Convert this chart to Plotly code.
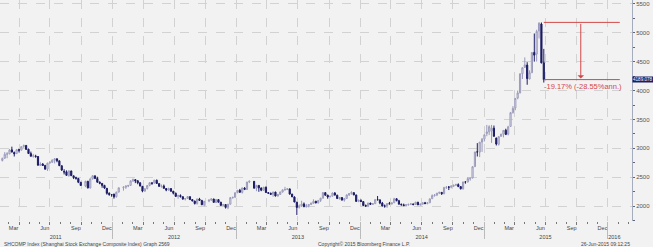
import pandas as pd
import plotly.graph_objects as go

# ---------------- data (weekly SHCOMP) ----------------
holiday_weeks = ["2011-10-07", "2012-01-27", "2012-10-05", "2013-02-15"]
weeks = [d for d in pd.date_range("2011-02-11", "2015-06-26", freq="W-FRI")
         if d.strftime("%Y-%m-%d") not in holiday_weeks]

opens = [
    # 2011
    2790, 2830, 2900, 2905, 2975, 2930, 2910, 2980, 2970, 3030,
    3050, 2985, 2910, 2865, 2870, 2860, 2705, 2730, 2705, 2640,
    2750, 2760, 2795, 2820, 2785, 2700, 2600, 2595, 2530, 2610,
    2525, 2495, 2480, 2415, 2350, 2430, 2315, 2475, 2525, 2480,
    2415, 2395, 2360, 2310, 2225, 2200,
    # 2012
    2210, 2165, 2245, 2320, 2330, 2350, 2360, 2440, 2460, 2440,
    2405, 2345, 2260, 2305, 2360, 2405, 2400, 2450, 2390, 2345,
    2350, 2305, 2280, 2305, 2260, 2225, 2170, 2185, 2165, 2125,
    2135, 2165, 2115, 2090, 2045, 2125, 2100, 2025, 2090, 2105,
    2125, 2065, 2115, 2070, 2015, 2030, 1980, 2035, 2150, 2155,
    # 2013
    2235, 2275, 2240, 2315, 2290, 2420, 2430, 2310, 2360, 2315,
    2275, 2330, 2235, 2225, 2205, 2245, 2175, 2205, 2245, 2285,
    2290, 2300, 2210, 2160, 2070, 1980, 2005, 2040, 1990, 2010,
    2030, 2050, 2085, 2060, 2100, 2140, 2235, 2190, 2160, 2175,
    2228, 2190, 2130, 2150, 2105, 2135, 2195, 2220, 2235, 2195,
    2085,
    # 2014
    2100, 2080, 2012, 2005, 2055, 2030, 2045, 2115, 2110, 2055,
    2005, 2005, 2045, 2040, 2060, 2130, 2095, 2035, 2025, 2010,
    2025, 2035, 2040, 2030, 2070, 2025, 2035, 2060, 2045, 2060,
    2130, 2185, 2195, 2225, 2240, 2215, 2325, 2330, 2330, 2345,
    2365, 2375, 2340, 2300, 2420, 2420, 2475, 2490, 2685, 2940,
    2935, 3110,
    # 2015
    3160, 3255, 3285, 3300, 3350, 3180, 3070, 3210, 3245, 3315,
    3245, 3380, 3620, 3700, 3870, 3960, 4290, 4400, 4440, 4200,
    4310, 4660, 4630, 5030, 5150, 4480,
]

highs = [
    # 2011
    2840, 2935, 2935, 2990, 3030, 2945, 2990, 2992, 3035, 3067,
    3060, 2995, 2945, 2905, 2890, 2865, 2760, 2745, 2715, 2750,
    2780, 2810, 2830, 2825, 2790, 2705, 2640, 2620, 2615, 2615,
    2530, 2510, 2490, 2420, 2440, 2440, 2480, 2536, 2530, 2510,
    2430, 2400, 2370, 2315, 2240, 2210,
    # 2012
    2215, 2250, 2325, 2345, 2355, 2370, 2445, 2478, 2465, 2450,
    2415, 2350, 2310, 2365, 2410, 2410, 2453, 2460, 2400, 2375,
    2375, 2315, 2320, 2310, 2265, 2235, 2200, 2205, 2170, 2140,
    2175, 2170, 2125, 2095, 2130, 2145, 2110, 2090, 2120, 2135,
    2130, 2120, 2120, 2075, 2040, 2035, 2040, 2155, 2165, 2240,
    # 2013
    2280, 2300, 2320, 2330, 2420, 2444, 2435, 2370, 2365, 2325,
    2335, 2340, 2245, 2235, 2250, 2250, 2210, 2250, 2290, 2335,
    2310, 2305, 2215, 2170, 2075, 2030, 2095, 2065, 2040, 2035,
    2065, 2120, 2095, 2110, 2145, 2245, 2245, 2200, 2175, 2240,
    2245, 2200, 2160, 2155, 2140, 2205, 2225, 2260, 2240, 2200,
    2115,
    # 2014
    2120, 2085, 2030, 2060, 2060, 2050, 2120, 2177, 2120, 2075,
    2030, 2050, 2075, 2065, 2145, 2135, 2110, 2045, 2045, 2035,
    2040, 2055, 2045, 2075, 2075, 2045, 2070, 2075, 2070, 2135,
    2205, 2210, 2230, 2250, 2245, 2330, 2345, 2350, 2360, 2370,
    2390, 2395, 2350, 2425, 2430, 2505, 2490, 2690, 2940, 3091,
    3110, 3180,
    # 2015
    3240, 3406, 3400, 3406, 3395, 3185, 3210, 3250, 3315, 3340,
    3390, 3630, 3730, 3866, 4000, 4300, 4400, 4573, 4490, 4350,
    4660, 4986, 5051, 5178, 5176, 4720,
]

lows = [
    # 2011
    2775, 2820, 2830, 2900, 2930, 2860, 2905, 2930, 2965, 3010,
    2975, 2905, 2860, 2840, 2840, 2705, 2700, 2700, 2630, 2610,
    2735, 2750, 2740, 2760, 2700, 2610, 2550, 2530, 2510, 2525,
    2470, 2460, 2400, 2355, 2330, 2307, 2310, 2460, 2470, 2410,
    2380, 2320, 2300, 2200, 2180, 2165,
    # 2012
    2132, 2150, 2240, 2270, 2300, 2330, 2355, 2420, 2400, 2380,
    2345, 2242, 2255, 2290, 2345, 2370, 2395, 2385, 2335, 2320,
    2305, 2260, 2270, 2250, 2205, 2165, 2130, 2150, 2110, 2100,
    2125, 2110, 2085, 2030, 2030, 2090, 2020, 2000, 2070, 2095,
    2060, 2055, 2065, 2010, 2000, 1960, 1949, 2030, 2130, 2150,
    # 2013
    2225, 2230, 2220, 2280, 2285, 2400, 2300, 2260, 2250, 2260,
    2270, 2230, 2220, 2200, 2165, 2170, 2170, 2195, 2240, 2270,
    2280, 2200, 2160, 2070, 1849, 1960, 1990, 1985, 1980, 1980,
    2020, 2045, 2050, 2045, 2075, 2135, 2180, 2130, 2155, 2170,
    2185, 2130, 2115, 2100, 2080, 2130, 2180, 2200, 2190, 2080,
    2070,
    # 2014
    2080, 2010, 1990, 1985, 2025, 2025, 2040, 2100, 2035, 2000,
    1975, 1974, 2035, 2030, 2055, 2085, 2030, 2010, 2005, 1995,
    2010, 2025, 2015, 2025, 2020, 2010, 2030, 2035, 2035, 2055,
    2125, 2165, 2175, 2210, 2195, 2210, 2300, 2280, 2310, 2340,
    2350, 2330, 2290, 2290, 2390, 2410, 2440, 2480, 2680, 2860,
    2850, 2940,
    # 2015
    3120, 3210, 3230, 3095, 3200, 3050, 3050, 3200, 3190, 3230,
    3225, 3375, 3600, 3660, 3850, 3950, 4200, 4390, 4100, 4195,
    4300, 4500, 4500, 4900, 4470, 4138,
]

closes = [
    # 2011
    2827, 2899, 2905, 2973, 2937, 2906, 2977, 2967, 3030, 3050,
    2983, 2911, 2864, 2871, 2858, 2709, 2728, 2705, 2642, 2746,
    2759, 2797, 2820, 2786, 2701, 2626, 2593, 2534, 2612, 2528,
    2497, 2482, 2416, 2359, 2431, 2318, 2473, 2528, 2481, 2416,
    2397, 2360, 2315, 2224, 2204, 2199,
    # 2012
    2163, 2244, 2319, 2330, 2351, 2357, 2439, 2460, 2439, 2405,
    2349, 2262, 2302, 2359, 2406, 2396, 2452, 2394, 2344, 2350,
    2309, 2281, 2306, 2260, 2225, 2170, 2185, 2168, 2127, 2132,
    2168, 2115, 2092, 2047, 2127, 2102, 2026, 2086, 2105, 2128,
    2067, 2117, 2070, 2015, 2029, 1980, 2034, 2150, 2153, 2233,
    # 2013
    2276, 2243, 2317, 2291, 2419, 2433, 2314, 2359, 2318, 2278,
    2328, 2237, 2225, 2206, 2245, 2177, 2205, 2247, 2283, 2288,
    2301, 2211, 2162, 2073, 1979, 2007, 2040, 1992, 2010, 2029,
    2052, 2085, 2058, 2098, 2139, 2236, 2191, 2160, 2174, 2228,
    2193, 2133, 2150, 2106, 2135, 2196, 2220, 2238, 2196, 2084,
    2101,
    # 2014
    2083, 2013, 2004, 2054, 2033, 2045, 2115, 2113, 2056, 2004,
    2004, 2047, 2041, 2058, 2130, 2097, 2036, 2027, 2011, 2026,
    2034, 2039, 2030, 2070, 2024, 2036, 2059, 2047, 2059, 2127,
    2185, 2194, 2226, 2240, 2217, 2327, 2331, 2329, 2347, 2364,
    2375, 2341, 2302, 2420, 2418, 2478, 2487, 2683, 2938, 2938,
    3108, 3158,
    # 2015
    3235, 3285, 3376, 3351, 3210, 3076, 3204, 3247, 3311, 3242,
    3373, 3617, 3691, 3864, 3958, 4287, 4394, 4442, 4206, 4308,
    4658, 4612, 5023, 5166, 4478, 4189,
]

last_price_label = "4189.078"
last_price = 4189.078
change_label = "-19.17% (-28.55%ann.)"
y_ticks = [2000, 2500, 3000, 3500, 4000, 4500, 5000, 5500]
month_names = ["Mar", "Jun", "Sep", "Dec"]
years = [2011, 2012, 2013, 2014, 2015, 2016]
title_text = "SHCOMP Index (Shanghai Stock Exchange Composite Index) Graph 2569"
copyright_text = "Copyright\u00a9 2015 Bloomberg Finance L.P."
stamp_text = "26-Jun-2015 09:12:25"

assert len(weeks) == len(opens) == len(highs) == len(lows) == len(closes), (
    len(weeks), len(opens), len(highs), len(lows), len(closes))

# ---------------- axis helpers ----------------
X0, X1 = "2011-02-04", "2016-03-12"
quarter_starts = [d.strftime("%Y-%m-%d") for d in pd.date_range("2011-04-01", "2016-01-01", freq="QS")]
month_starts = [d.strftime("%Y-%m-%d") for d in pd.date_range("2011-03-01", "2016-03-01", freq="MS")]
label_pos, label_txt = [], []
for yr in range(2011, 2016):
    for m, name in zip([3, 6, 9, 12], month_names):
        label_pos.append(f"{yr}-{m:02d}-16")
        label_txt.append(name)
year_pos = ["2011-07-18", "2012-07-01", "2013-07-01", "2014-07-01", "2015-07-01", "2016-01-20"]
year_bounds = [f"{y}-01-01" for y in years[1:]]

FONT = "Liberation Sans"
BG = "#f2f2f2"
GRID = "#d2d2d2"
RED = "#d24848"
NAVY = "#1c1c66"

fig = go.Figure()
fig.add_trace(go.Candlestick(
    x=weeks, open=opens, high=highs, low=lows, close=closes,
    increasing=dict(line=dict(color="#9a9abb", width=1), fillcolor="#f6f6fc"),
    decreasing=dict(line=dict(color=NAVY, width=1), fillcolor=NAVY),
    whiskerwidth=0, showlegend=False, hoverinfo="skip",
))

# red level lines and arrow
peak = highs[-3]
end_x = "2016-02-05"
fig.add_shape(type="line", xref="x", yref="y", x0=weeks[-1], x1=end_x, y0=peak, y1=peak,
              line=dict(color=RED, width=1))
fig.add_shape(type="line", xref="x", yref="y", x0=weeks[-1], x1=end_x, y0=last_price, y1=last_price,
              line=dict(color=RED, width=1))
fig.add_annotation(x="2015-10-13", y=last_price + 20, ax="2015-10-13", ay=peak,
                   xref="x", yref="y", axref="x", ayref="y", text="", showarrow=True,
                   arrowhead=1, arrowsize=1.1, arrowwidth=1, arrowcolor=RED)
fig.add_annotation(x=weeks[-1], y=last_price, xref="x", yref="y", text=change_label,
                   showarrow=False, xanchor="left", yanchor="top", xshift=-2, yshift=0,
                   font=dict(family=FONT, size=7.5, color=RED))

# last price tag on the axis
fig.add_annotation(x=1, xref="paper", y=last_price, yref="y", text=last_price_label,
                   showarrow=False, xanchor="left", yanchor="middle", bgcolor=NAVY,
                   borderpad=0, xshift=0, font=dict(family=FONT, size=4.6, color="white"))

# footer
for txt, xpos, anchor in [(title_text, 0.003, "left"), (copyright_text, 0.5, "left"),
                          (stamp_text, 1.0, "right")]:
    fig.add_annotation(x=xpos, y=0, xref="paper", yref="paper", yshift=-23, text=txt,
                       showarrow=False, xanchor=anchor, yanchor="middle",
                       font=dict(family=FONT, size=5, color="#444"))

common_x = dict(type="date", range=[X0, X1], fixedrange=True, zeroline=False)
fig.update_layout(
    width=653, height=247, autosize=False,
    margin=dict(l=0, r=21, t=0, b=26, pad=0),
    paper_bgcolor=BG, plot_bgcolor=BG,
    showlegend=False,
    xaxis=dict(**common_x, rangeslider=dict(visible=False),
               tickmode="array", tickvals=quarter_starts, showticklabels=False,
               ticks="outside", ticklen=3, tickcolor="#777", tickwidth=1,
               showgrid=True, gridcolor=GRID, griddash="dash", gridwidth=1,
               minor=dict(tickmode="array", tickvals=month_starts, ticks="outside",
                          ticklen=2, tickcolor="#777", showgrid=False),
               showline=False),
    xaxis2=dict(**common_x, overlaying="x", anchor="y", side="bottom",
                tickmode="array", tickvals=label_pos, ticktext=label_txt,
                ticks="", showgrid=False, showline=False, ticklabelstandoff=2,
                tickfont=dict(family=FONT, size=5.5, color="#444")),
    xaxis3=dict(**common_x, overlaying="x", anchor="y", side="bottom",
                tickmode="array", tickvals=year_pos, ticktext=[str(y) for y in years],
                ticks="", showgrid=False, showline=False, ticklabelstandoff=11,
                tickfont=dict(family=FONT, size=5.5, color="#444")),
    xaxis4=dict(**common_x, overlaying="x", anchor="y", side="bottom",
                tickmode="array", tickvals=year_bounds, showticklabels=False,
                ticks="outside", ticklen=17, tickcolor="#bbb", tickwidth=1,
                showgrid=False, showline=False),
    yaxis=dict(side="right", range=[1745, 5565], fixedrange=True, zeroline=False,
               tickmode="array", tickvals=y_ticks, ticks="outside", ticklen=2,
               tickcolor="#5a6680", showline=True, linecolor="#a4acbe", linewidth=1,
               showgrid=True, gridcolor=GRID, griddash="dash", gridwidth=1,
               tickfont=dict(family=FONT, size=6, color="#555"),
               minor=dict(dtick=250, ticks="outside", ticklen=2, tickcolor="#5a6680",
                          showgrid=False)),
)

# dummy invisible traces so the overlay axes are drawn
for ax in ["x2", "x3", "x4"]:
    fig.add_trace(go.Scatter(x=[weeks[0]], y=[closes[0]], xaxis=ax, yaxis="y",
                             mode="markers", marker=dict(opacity=0), hoverinfo="skip",
                             showlegend=False))

fig.write_html("out.html")
